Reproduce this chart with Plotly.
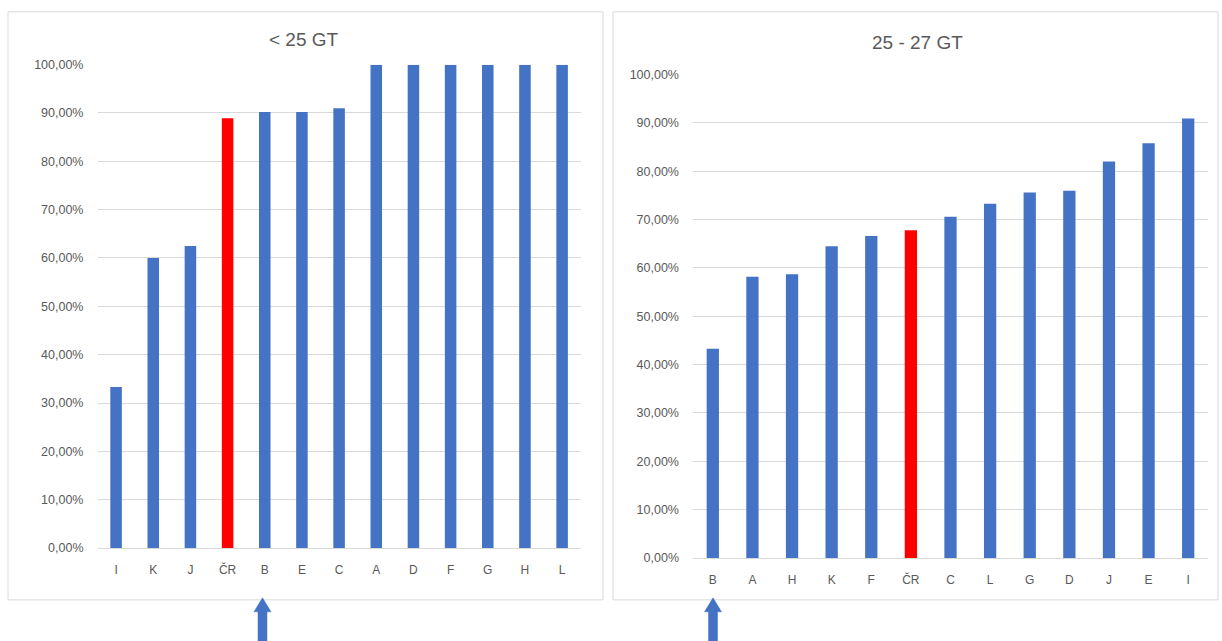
import plotly.graph_objects as go

# < 25 GT panel
cats_small = ["I", "K", "J", "ČR", "B", "E", "C", "A", "D", "F", "G", "H", "L"]
vals_small = [0.3333, 0.60, 0.625, 0.889, 0.902, 0.902, 0.910, 1.0, 1.0, 1.0, 1.0, 1.0, 1.0]

# 25 - 27 GT panel
cats_mid = ["B", "A", "H", "K", "F", "ČR", "C", "L", "G", "D", "J", "E", "I"]
vals_mid = [0.433, 0.582, 0.587, 0.645, 0.666, 0.678, 0.706, 0.733, 0.756, 0.760, 0.820, 0.858, 0.909]

titles = ["< 25 GT", "25 - 27 GT"]
highlight = "ČR"
y_ticks = [0, 0.1, 0.2, 0.3, 0.4, 0.5, 0.6, 0.7, 0.8, 0.9, 1.0]
y_tick_labels = ["0,00%", "10,00%", "20,00%", "30,00%", "40,00%", "50,00%",
                 "60,00%", "70,00%", "80,00%", "90,00%", "100,00%"]

BLUE = "#4472C4"
RED = "#FF0000"
GRID = "#D9D9D9"
TEXT = "#595959"
W, H = 1222, 641
# vertical calibration of the page (rendered height vs. layout height)
V_SCALE, V_OFF = 0.9814, 5.17


def px_x(x):
    return x / W


def px_y(y):
    return 1 - ((y - V_OFF) / V_SCALE) / H


fig = go.Figure()

for i, (cats, vals) in enumerate([(cats_small, vals_small), (cats_mid, vals_mid)]):
    suffix = "" if i == 0 else "2"
    fig.add_trace(go.Bar(
        x=cats, y=vals,
        marker=dict(color=[RED if c == highlight else BLUE for c in cats], line=dict(width=0)),
        width=0.31,
        xaxis="x" + suffix, yaxis="y" + suffix,
        showlegend=False,
    ))

font_family = "Liberation Sans, Arial, sans-serif"
x_font = dict(family=font_family, size=12, color=TEXT)
y_font = dict(family=font_family, size=12.5, color=TEXT)

common_x = dict(showgrid=False, showline=True, linecolor=GRID, linewidth=1, ticks="",
                tickfont=x_font, ticklabelstandoff=11)
common_y = dict(range=[0, 1.0], tickvals=y_ticks, ticktext=y_tick_labels, showgrid=True,
                gridcolor=GRID, gridwidth=1, zeroline=False, showline=False,
                tickfont=y_font, ticklabelstandoff=13)

fig.update_layout(
    width=W, height=H,
    margin=dict(l=0, r=0, t=0, b=0),
    paper_bgcolor="white", plot_bgcolor="white",
    xaxis=dict(domain=[px_x(97.5), px_x(580.7)], anchor="y", **common_x),
    yaxis=dict(domain=[px_y(548), px_y(63)], anchor="x", **common_y),
    xaxis2=dict(domain=[px_x(693), px_x(1208)], anchor="y2", **common_x),
    yaxis2=dict(domain=[px_y(558), px_y(73)], anchor="x2", **common_y),
)

# Chart frames
for x0, x1 in [(8, 603), (613, 1218)]:
    fig.add_shape(type="rect", xref="paper", yref="paper",
                  x0=px_x(x0), x1=px_x(x1), y0=px_y(600), y1=px_y(10),
                  line=dict(color=GRID, width=1), fillcolor="rgba(0,0,0,0)")

# Panel titles
for title, cx, cy in [(titles[0], 304, 38), (titles[1], 918, 41)]:
    fig.add_annotation(text=title, xref="paper", yref="paper",
                       x=px_x(cx), y=px_y(cy), showarrow=False,
                       xanchor="center", yanchor="middle",
                       font=dict(family=font_family, size=19, color=TEXT))

# Upward arrows pointing at the marked categories
for cx in [262.5, 713]:
    tip, base, bottom = 598, 612, 645
    hw, sw = 8.5, 4.5
    pts = [(cx, tip), (cx + hw, base), (cx + sw, base), (cx + sw, bottom),
           (cx - sw, bottom), (cx - sw, base), (cx - hw, base)]
    path = "M " + " L ".join(f"{px_x(x):.5f},{px_y(y):.5f}" for x, y in pts) + " Z"
    fig.add_shape(type="path", xref="paper", yref="paper", path=path,
                  fillcolor=BLUE, line=dict(color=BLUE, width=0.5))

fig.write_html("out.html")
